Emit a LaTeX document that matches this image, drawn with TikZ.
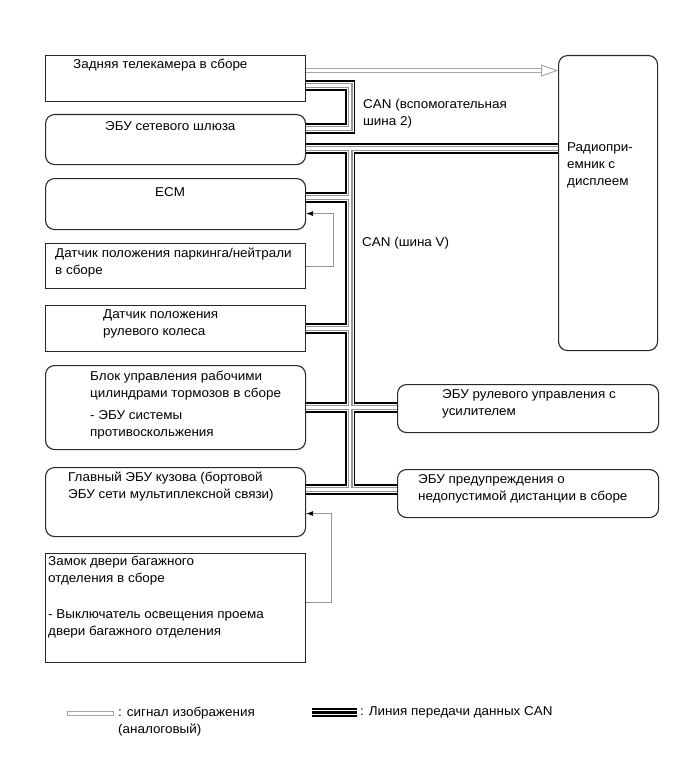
\documentclass[tikz,border=0pt]{standalone}
\usepackage{fontspec}
\setmainfont{Liberation Sans}[FakeStretch=1.05]
\usetikzlibrary{arrows.meta, positioning, calc}
\definecolor{rimGray}{RGB}{40,40,40}
\definecolor{wireGray}{RGB}{150,150,150}
\tikzset{
  blk/box/.style={rectangle, draw=rimGray, fill=white, line width=1.1pt,
    inner sep=0pt, anchor=north west},
  blk/rbox/.style={blk/box, rounded corners=9pt},
  blk/txt/.style={inner sep=0pt, align=left,
    font=\fontsize{12.8}{17}\selectfont, text=black},
  blk/img/.style={draw=wireGray!85, double=white, double distance=2.8pt,
    line width=0.9pt},
  blk/sig/.style={draw=wireGray, line width=0.8pt,
    -{Latex[length=7pt,width=5pt,black]}}
}

\begin{document}
\begin{tikzpicture}[x=1pt, y=-1pt]
  \useasboundingbox (0,0) rectangle (690,757);

  % boxes, left column
  \node[blk/box,  minimum width=260pt, minimum height=46pt]  (cam)   at (45,55)  {};
  \node[blk/rbox, minimum width=260pt, minimum height=50pt]  (gw)    at (45,114) {};
  \node[blk/rbox, minimum width=260pt, minimum height=51pt]  (ecm)   at (45,178) {};
  \node[blk/box,  minimum width=260pt, minimum height=45pt]  (park)  at (45,243) {};
  \node[blk/box,  minimum width=260pt, minimum height=46pt]  (steer) at (45,305) {};
  \node[blk/rbox, minimum width=260pt, minimum height=84pt]  (brake) at (45,365) {};
  \node[blk/rbox, minimum width=260pt, minimum height=69pt]  (body)  at (45,467) {};
  \node[blk/box,  minimum width=260pt, minimum height=109pt] (trunk) at (45,553) {};
  % boxes, right column
  \node[blk/rbox, minimum width=99pt,  minimum height=295pt] (radio) at (558,55)  {};
  \node[blk/rbox, minimum width=261pt, minimum height=48pt]  (eps)   at (397,384) {};
  \node[blk/rbox, minimum width=261pt, minimum height=48pt]  (dist)  at (397,469) {};

  % texts
  \node[blk/txt, below right=4pt and 28pt of cam.north west] (camT)
    {Задняя телекамера в сборе};
  \node[blk/txt, below right=7pt and 60pt of gw.north west] (gwT)
    {ЭБУ сетевого шлюза};
  \node[blk/txt, below right=9pt and 110pt of ecm.north west] (ecmT)
    {ECM};
  \node[blk/txt, below right=5pt and 10pt of park.north west] (parkT)
    {Датчик положения паркинга/нейтрали\\в сборе};
  \node[blk/txt, below right=4pt and 58pt of steer.north west] (steerT)
    {Датчик положения\\рулевого колеса};
  \node[blk/txt, below right=6pt and 45pt of brake.north west] (brakeT)
    {Блок управления рабочими\\цилиндрами тормозов в сборе\\[5pt]- ЭБУ системы\\противоскольжения};
  \node[blk/txt, below right=5pt and 23pt of body.north west] (bodyT)
    {Главный ЭБУ кузова (бортовой\\ЭБУ сети мультиплексной связи)};
  \node[blk/txt, below right=3pt and 3pt of trunk.north west] (trunkT)
    {Замок двери багажного\\отделения в сборе\\[19pt]- Выключатель освещения проема\\двери багажного отделения};
  \node[blk/txt, below right=87pt and 9pt of radio.north west] (radioT)
    {Радиопри-\\емник с\\дисплеем};
  \node[blk/txt, below right=5pt and 45pt of eps.north west] (epsT)
    {ЭБУ рулевого управления с\\усилителем};
  \node[blk/txt, below right=5pt and 21pt of dist.north west] (distT)
    {ЭБУ предупреждения о\\недопустимой дистанции в сборе};
  \node[blk/txt, anchor=north west] (can2T) at (363,99)
    {CAN (вспомогательная\\шина 2)};
  \node[blk/txt, anchor=north west] (canVT) at (362,237)
    {CAN (шина V)};

  % connection points
  \coordinate (bus)    at (350,0);
  \coordinate (cam1)   at ([yshift=8pt]cam.east);
  \coordinate (cam2)   at ([yshift=-7pt]cam.east);
  \coordinate (gw2)    at ([yshift=11pt]gw.east);
  \coordinate (gw3)    at ([yshift=-9pt]gw.east);
  \coordinate (ecm2)   at ([yshift=6.5pt]ecm.east);
  \coordinate (ecm3)   at ([yshift=-9.5pt]ecm.east);
  \coordinate (body2)  at ([yshift=12.5pt]body.east);
  \coordinate (body3)  at ([yshift=-11.5pt]body.east);
  \coordinate (trunk2) at ([yshift=5.5pt]trunk.east);

  % CAN lines
  \foreach \lw/\col in {10.5/black, 7/white, 5/wireGray, 2.4/white}{
    \draw[line width=\lw pt, draw=\col, line join=miter]
      (cam2) -- (cam2 -| bus) -- (gw2 -| bus) -- (gw2)
      (gw3) -- (radio.west |- gw3)
      (gw3 -| bus) -- (body2 -| bus)
      (ecm2) -- (ecm2 -| bus)
      (steer.east) -- (steer.east -| bus)
      (brake.east) -- (eps.west |- brake.east)
      (body2) -- (dist.west |- body2);
  }

  % image signal
  \draw[blk/img, -{Triangle[open, length=17pt, width=12pt]}] (cam1) -- (radio.west |- cam1);

  % switch signals
  \draw[blk/sig] (park.east) -- ++(27,0) |- (ecm3);
  \draw[blk/sig] (trunk2) -- ++(25,0) |- (body3);

  % legend
  \coordinate (legA) at (67,711);
  \coordinate (legB) at (312,712.5);
  \draw[draw=wireGray!85, line width=0.9pt] (legA) rectangle ++(46,4);
  \foreach \lw/\col in {9/black, 5.6/white, 2.4/black}{
    \draw[line width=\lw pt, draw=\col] (legB) -- ++(45,0);
  }
  \node[blk/txt, anchor=north west] (legAT) at (118,707)
    {: сигнал изображения\\(аналоговый)};
  \node[blk/txt, anchor=north west] (legBT) at (360,706)
    {: Линия передачи данных CAN};
\end{tikzpicture}
\end{document}
